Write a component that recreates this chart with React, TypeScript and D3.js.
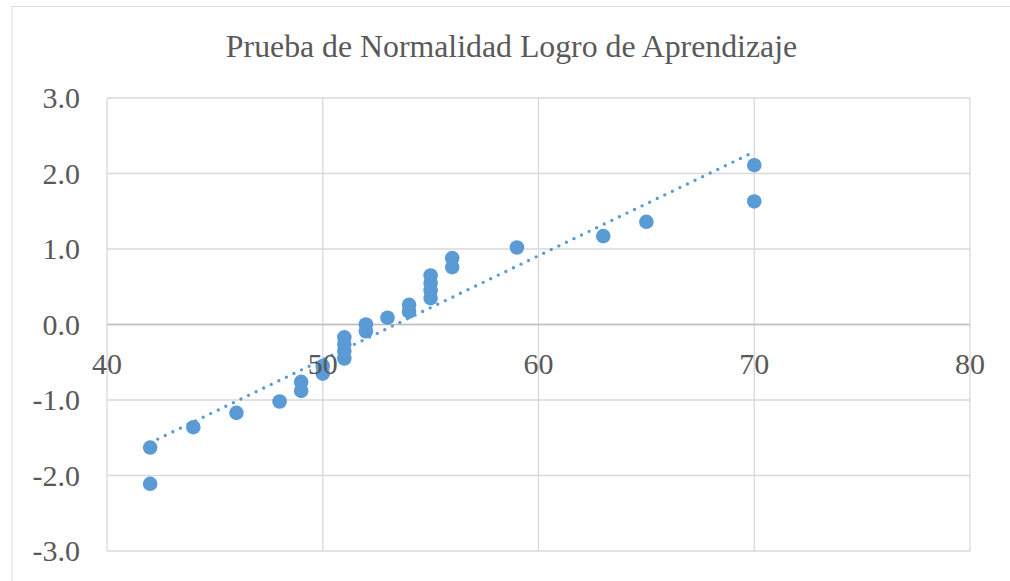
import React from "react";
import * as d3 from "d3";

const title = "Prueba de Normalidad Logro de Aprendizaje";
const xValues = [42, 42, 44, 46, 48, 49, 49, 50, 50, 51, 51, 51, 51, 52, 52, 53, 54, 54, 55, 55, 55, 55, 56, 56, 59, 63, 65, 70, 70];
const zValues = [-2.11, -1.63, -1.36, -1.17, -1.02, -0.88, -0.76, -0.65, -0.55, -0.45, -0.35, -0.26, -0.17, -0.09, 0.0, 0.09, 0.17, 0.26, 0.35, 0.45, 0.55, 0.65, 0.76, 0.88, 1.02, 1.17, 1.36, 1.63, 2.11];
const xTicks = [40, 50, 60, 70, 80];
const yTicks = [-3, -2, -1, 0, 1, 2, 3];

const W = 1010;
const H = 581;
const FONT = "'Liberation Serif', 'Times New Roman', serif";

export default function App() {
  const x = d3.scaleLinear().domain([40, 80]).range([107, 970]);
  const y = d3.scaleLinear().domain([-3, 3]).range([551, 98]);
  const pts = xValues.map((v, i) => ({ x: v, z: zValues[i] }));

  // least squares trendline
  const mx = d3.mean(xValues) as number;
  const mz = d3.mean(zValues) as number;
  let sxy = 0, sxx = 0;
  pts.forEach((p) => { sxy += (p.x - mx) * (p.z - mz); sxx += (p.x - mx) ** 2; });
  const slope = sxy / sxx;
  const icpt = mz - slope * mx;
  const [x0, x1] = d3.extent(xValues) as [number, number];
  const line = d3.line<number>().x((d) => x(d)).y((d) => y(icpt + slope * d));

  return (
    <div style={{ position: "fixed", left: 0, top: 0 }}>
      <svg width={W} height={H} style={{ display: "block", background: "#fff" }}>
        <rect x={12} y={6.5} width={1010} height={600} fill="#fff" stroke="#d9d9d9" strokeWidth={1} />
        <text x={511.5} y={57} textAnchor="middle" fontFamily={FONT} fontSize={31.8} fill="#595959">{title}</text>
        {yTicks.map((t) => (
          <line key={"gy" + t} x1={x(40)} x2={x(80)} y1={y(t)} y2={y(t)} stroke="#d9d9d9" strokeWidth={1.3} />
        ))}
        {xTicks.map((t) => (
          <line key={"gx" + t} x1={x(t)} x2={x(t)} y1={y(3)} y2={y(-3)} stroke="#d9d9d9" strokeWidth={1.3} />
        ))}
        <line x1={x(40)} x2={x(80)} y1={y(0)} y2={y(0)} stroke="#bfbfbf" strokeWidth={1.5} />
        {pts.map((p, i) => (
          <circle key={i} cx={x(p.x)} cy={y(p.z)} r={7.3} fill="#5b9bd5" />
        ))}
        <path d={line([x0, x1]) || ""} fill="none" stroke="#5b9bd5" strokeWidth={3.4} strokeLinecap="round" strokeDasharray="0 8.4" />
        {yTicks.map((t) => (
          <text key={"ly" + t} x={80} y={y(t) + 10} textAnchor="end" fontFamily={FONT} fontSize={30} fill="#595959">{t.toFixed(1)}</text>
        ))}
        {xTicks.map((t) => (
          <text key={"lx" + t} x={x(t)} y={y(0) + 49} textAnchor="middle" fontFamily={FONT} fontSize={30} fill="#595959">{t}</text>
        ))}
      </svg>
    </div>
  );
}
